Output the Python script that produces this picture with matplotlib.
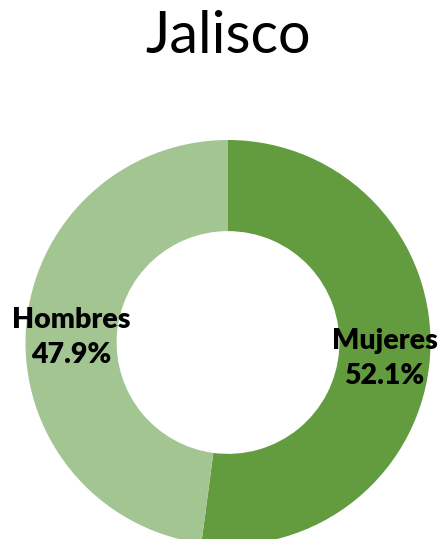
import numpy as np
import matplotlib
matplotlib.use("Agg")
import matplotlib.pyplot as plt
from matplotlib.transforms import offset_copy

title = "Jalisco"
labels = ["Mujeres", "Hombres"]
shares = [52.1, 47.9]
colors = ["#629C3E", "#A3C592"]

plt.rcParams["font.family"] = ["Lato", "DejaVu Sans"]

fig = plt.figure(figsize=(4.41, 5.39), dpi=100)
W, H = 441, 539
cx, cy, r = 228, 342.5, 202.5
ax = fig.add_axes([(cx - r) / W, (H - cy - r) / H, 2 * r / W, 2 * r / H])

wedges, _ = ax.pie(
    shares,
    colors=colors,
    startangle=90,
    counterclock=False,
    radius=1.0,
    wedgeprops={"width": 0.45, "linewidth": 0},
)
ax.set_xlim(-1, 1)
ax.set_ylim(-1, 1)
ax.set_aspect("equal")
ax.axis("off")

# Excel puts the labels a touch lower than the ring centre
label_tr = offset_copy(ax.transData, fig=fig, x=0, y=-4, units="points")
for w, lab, val in zip(wedges, labels, shares):
    ang = np.deg2rad((w.theta1 + w.theta2) / 2)
    x = 0.775 * np.cos(ang)
    y = 0.775 * np.sin(ang)
    ax.text(x, y, f"{lab}\n{val:.1f}%", ha="center", va="center", transform=label_tr,
            fontsize=20.5, fontweight="heavy", linespacing=1.45, color="black")

fig.text(cx / W, 1 - 36 / H, title, ha="center", va="center", fontsize=41.5, color="black")

fig.savefig("out.png", dpi=100, facecolor="white")
